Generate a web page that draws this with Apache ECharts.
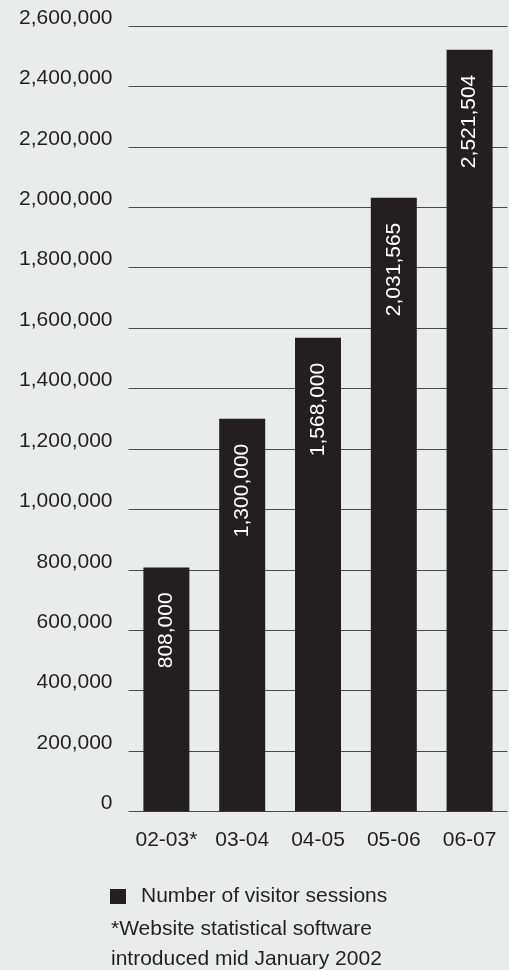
<!DOCTYPE html>
<html>
<head>
<meta charset="utf-8">
<script src="https://cdn.jsdelivr.net/npm/echarts@6/dist/echarts.min.js"></script>
<style>
  html, body { margin: 0; padding: 0; background: #eaebeb; }
  #chart { width: 509px; height: 970px; }
</style>
</head>
<body>
<div id="chart"></div>
<script>
// Visitor sessions per financial year
const categories = ['02-03*', '03-04', '04-05', '05-06', '06-07'];
const sessions = [808000, 1300000, 1568000, 2031565, 2521504];
const seriesName = 'Number of visitor sessions';
const footnote = ['*Website statistical software', 'introduced mid January 2002'];
const axisMax = 2600000;
const axisStep = 200000;

const ink = '#231f20';
const font = "'Liberation Sans', Arial, sans-serif";
const size = 21;
const fmt = v => Number(v).toLocaleString('en-US');

const chart = echarts.init(document.getElementById('chart'), null, { renderer: 'canvas' });
chart.setOption({
  backgroundColor: '#eaebeb',
  animation: false,
  textStyle: { fontFamily: font, color: ink },
  grid: { left: 128.5, right: 1.5, top: 26, height: 785.5 },
  title: {
    text: footnote.join('\n'),
    left: 111,
    top: 914,
    padding: 0,
    textStyle: { fontFamily: font, fontSize: size, fontWeight: 'normal', color: ink, lineHeight: 30 }
  },
  legend: {
    data: [seriesName],
    left: 110,
    top: 886,
    padding: 0,
    icon: 'rect',
    itemWidth: 16,
    itemHeight: 15,
    textStyle: { fontFamily: font, fontSize: size, color: ink, padding: [0, 0, 0, 10] }
  },
  xAxis: {
    type: 'category',
    data: categories,
    axisLine: { show: false },
    axisTick: { show: false },
    axisLabel: { interval: 0, fontFamily: font, fontSize: size, color: ink, margin: 18 }
  },
  yAxis: {
    type: 'value',
    min: 0,
    max: axisMax,
    interval: axisStep,
    axisLine: { show: false },
    axisTick: { show: false },
    splitLine: { lineStyle: { color: '#4a4a4a', width: 1 } },
    axisLabel: {
      fontFamily: font, fontSize: size, color: ink, margin: 16,
      verticalAlign: 'bottom', lineHeight: 16,
      formatter: v => fmt(v)
    }
  },
  series: [{
    name: seriesName,
    type: 'bar',
    data: sessions,
    barWidth: 46,
    itemStyle: { color: ink },
    label: {
      show: true,
      position: 'insideTop',
      distance: 22,
      rotate: 90,
      align: 'right',
      verticalAlign: 'middle',
      offset: [-3, 0],
      fontFamily: font,
      fontSize: size,
      color: '#ffffff',
      formatter: p => fmt(p.value)
    }
  }]
});
</script>
</body>
</html>
